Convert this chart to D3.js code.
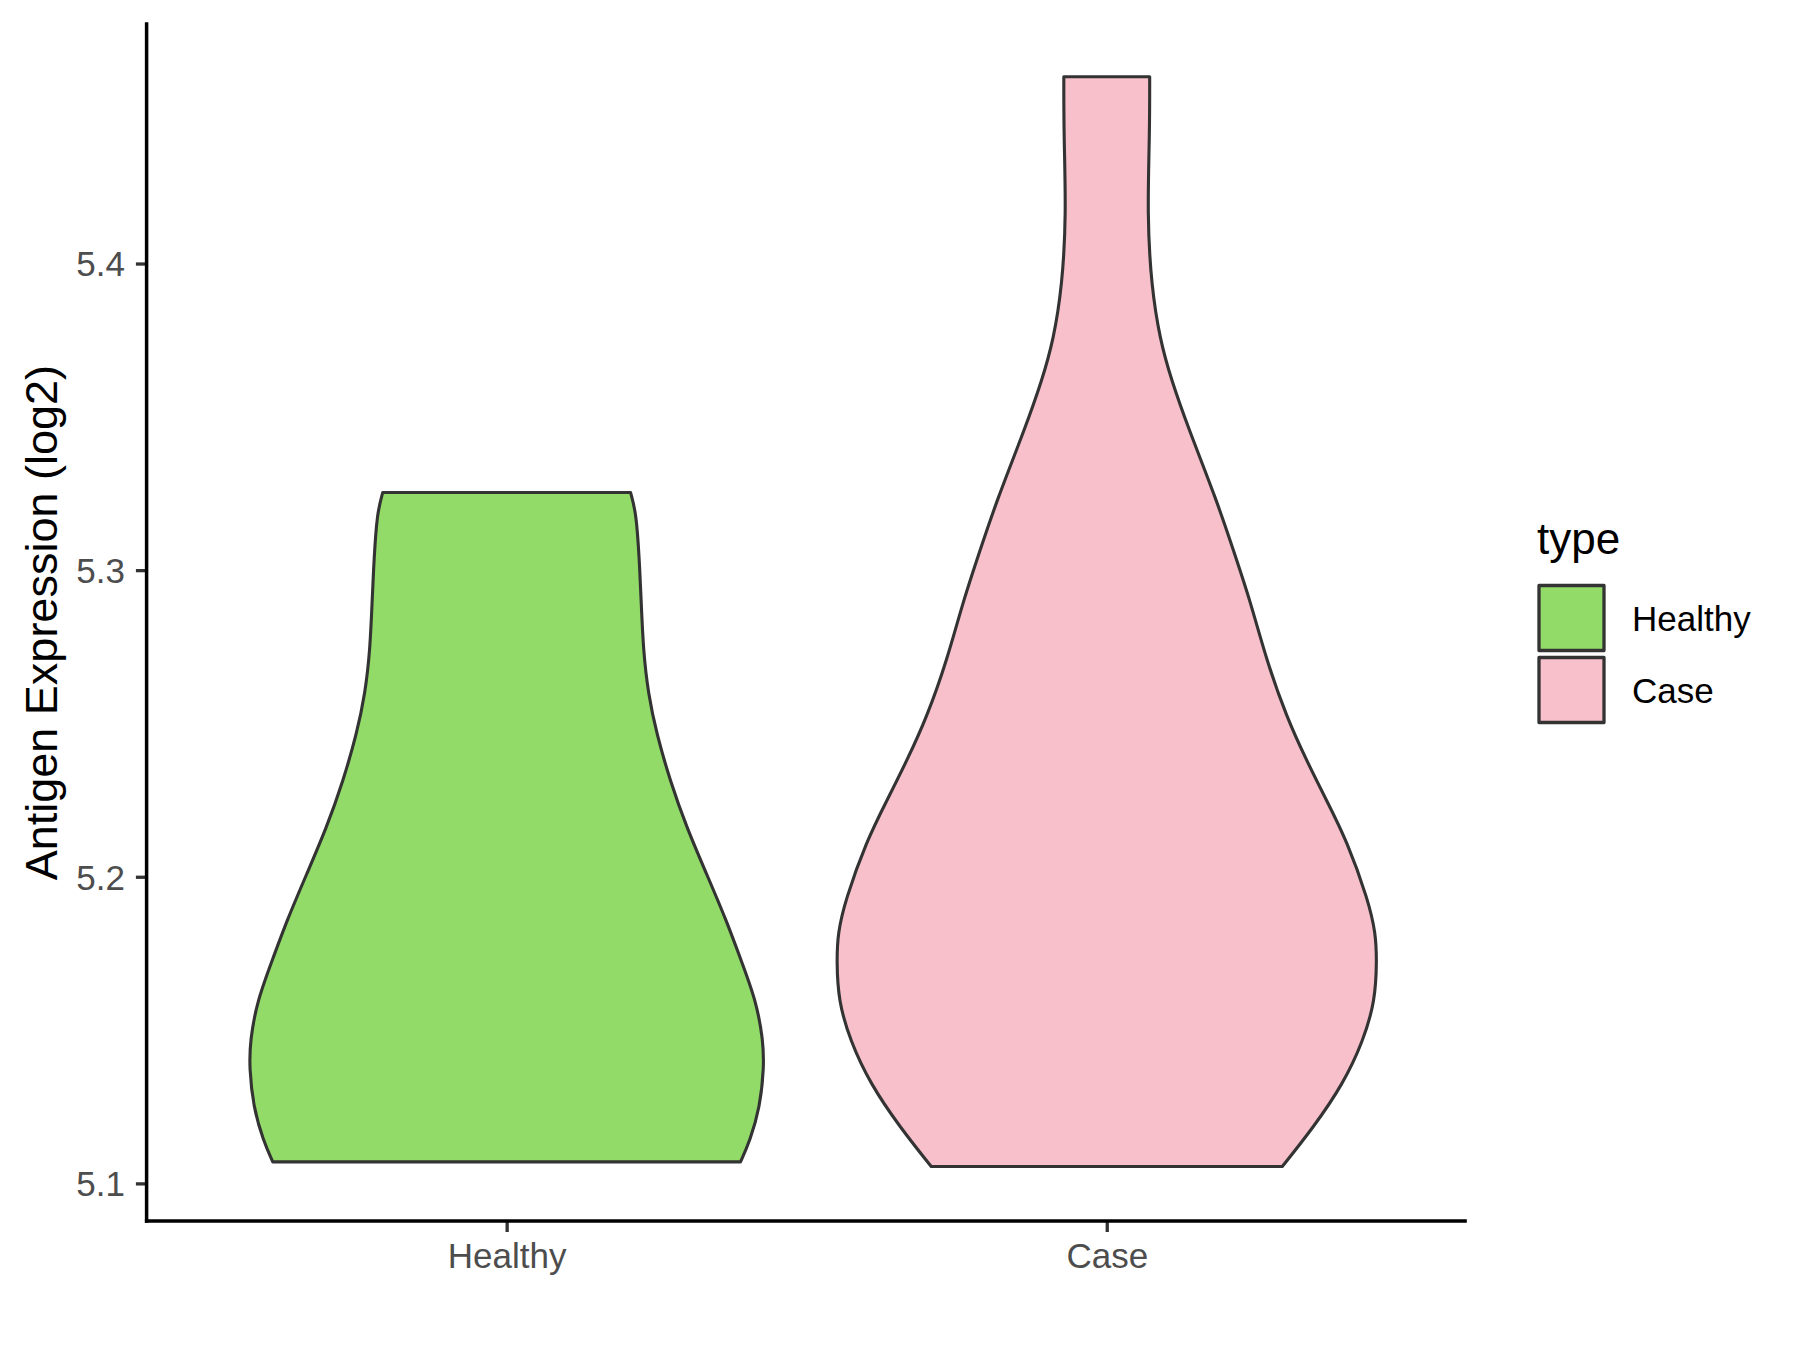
<!DOCTYPE html>
<html>
<head>
<meta charset="utf-8">
<script src="https://cdn.jsdelivr.net/npm/d3@7"></script>
<style>
  body { margin: 0; background: #fff; }
  text { font-family: "Liberation Sans", Arial, sans-serif; }
</style>
</head>
<body>
<svg id="chart" width="1800" height="1350"></svg>
<script>
const categories = ["Healthy", "Case"];
const fills = ["#93DB69", "#F8C0CB"];
const yTicks = [5.1, 5.2, 5.3, 5.4];

// violin outlines: value -> relative density (half width)
const healthyValues = [5.1070, 5.1139, 5.1248, 5.1378, 5.1465, 5.1596, 5.1737, 5.1857,
  5.2010, 5.2162, 5.2314, 5.2467, 5.2598, 5.2738, 5.2902, 5.3039, 5.3185, 5.3253];
const healthyDensity = [0.866, 0.901, 0.938, 0.953, 0.950, 0.924, 0.864, 0.814,
  0.740, 0.666, 0.605, 0.555, 0.524, 0.506, 0.498, 0.491, 0.480, 0.459];

const caseValues = [5.1055, 5.1182, 5.1325, 5.1465, 5.1596, 5.1726, 5.1815, 5.1922,
  5.2118, 5.2249, 5.2379, 5.2521, 5.2705, 5.2901, 5.3065, 5.3228, 5.3461, 5.3621,
  5.3752, 5.3927, 5.4160, 5.4423, 5.4609];
const caseDensity = [0.650, 0.765, 0.876, 0.950, 0.994, 1.000, 0.996, 0.969,
  0.889, 0.814, 0.740, 0.666, 0.592, 0.531, 0.469, 0.407, 0.303, 0.239,
  0.197, 0.165, 0.150, 0.159, 0.159];

const violins = [
  { name: "Healthy", values: healthyValues, density: healthyDensity },
  { name: "Case", values: caseValues, density: caseDensity }
];

const svg = d3.select("#chart");
const panel = { left: 146.6, right: 1466.8, top: 22.3, bottom: 1221 };

const allValues = healthyValues.concat(caseValues);
const ext = d3.extent(allValues);
const pad = (ext[1] - ext[0]) * 0.05;

const y = d3.scaleLinear().domain([ext[0] - pad, ext[1] + pad]).range([panel.bottom, panel.top]);
const x = d3.scalePoint().domain(categories).range([panel.left, panel.right]).padding(0.6);
const w = d3.scaleLinear().domain([0, 1]).range([0, 0.45 * x.step()]);
const color = d3.scaleOrdinal().domain(categories).range(fills);

// violins
violins.forEach(v => {
  const pts = v.values.map((val, i) => ({ val: val, d: v.density[i] }));
  const cx = x(v.name);
  const area = d3.area()
    .y(d => y(d.val))
    .x0(d => cx - w(d.d))
    .x1(d => cx + w(d.d))
    .curve(d3.curveBasis);
  svg.append("path")
    .attr("d", area(pts))
    .attr("fill", color(v.name))
    .attr("stroke", "#333333")
    .attr("stroke-width", 3.1)
    .attr("stroke-linejoin", "round");
});

// y axis
const yAxis = svg.append("g").attr("transform", `translate(${panel.left},0)`)
  .call(d3.axisLeft(y).tickValues(yTicks).tickFormat(d3.format(".1f")).tickSize(10.7).tickPadding(11));
yAxis.select(".domain").remove();
yAxis.selectAll(".tick line").attr("stroke", "#333333").attr("stroke-width", 3.3);
yAxis.selectAll(".tick text")
  .attr("fill", "#4D4D4D").style("font-size", "35px")
  .attr("font-family", null).attr("dy", "0.35em");

// x axis
const xAxis = svg.append("g").attr("transform", `translate(0,${panel.bottom})`)
  .call(d3.axisBottom(x).tickSize(11).tickPadding(9));
xAxis.select(".domain").remove();
xAxis.selectAll(".tick line").attr("stroke", "#333333").attr("stroke-width", 3.3);
xAxis.selectAll(".tick text")
  .attr("fill", "#4D4D4D").style("font-size", "35px")
  .attr("font-family", null).attr("dy", null).attr("y", 47);

// axis lines
svg.append("line").attr("x1", panel.left).attr("x2", panel.left)
  .attr("y1", panel.top).attr("y2", panel.bottom + 1.7)
  .attr("stroke", "#000").attr("stroke-width", 3.5);
svg.append("line").attr("x1", panel.left - 1.7).attr("x2", panel.right)
  .attr("y1", panel.bottom).attr("y2", panel.bottom)
  .attr("stroke", "#000").attr("stroke-width", 3.5);

// y title
svg.append("text")
  .attr("transform", `translate(56.6,${(panel.top + panel.bottom) / 2 + 1}) rotate(-90)`)
  .attr("text-anchor", "middle")
  .style("font-size", "45px")
  .attr("fill", "#000")
  .text("Antigen Expression (log2)");

// legend
const legend = svg.append("g");
legend.append("text")
  .attr("x", 1537).attr("y", 554)
  .style("font-size", "44px").attr("fill", "#000")
  .text("type");

categories.forEach((c, i) => {
  const cy = 618 + i * 72;
  legend.append("rect")
    .attr("x", 1539).attr("y", cy - 32.5).attr("width", 65).attr("height", 65)
    .attr("fill", color(c)).attr("stroke", "#333333").attr("stroke-width", 3.3)
    .attr("stroke-linejoin", "round");
  legend.append("text")
    .attr("x", 1632).attr("y", cy + 12.6)
    .style("font-size", "35px").attr("fill", "#000")
    .text(c);
});
</script>
</body>
</html>
